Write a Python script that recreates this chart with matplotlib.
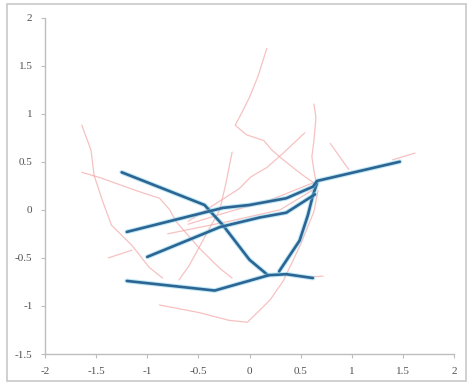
import matplotlib
matplotlib.use("Agg")
import matplotlib.pyplot as plt
from matplotlib.patches import Rectangle

# Thin red traces
red_traces = [
    ([-1.64, -1.55, -1.52, -1.44, -1.35, -1.15, -0.98, -0.85],
     [0.88, 0.62, 0.36, 0.10, -0.16, -0.37, -0.60, -0.71]),
    ([-1.64, -1.45, -1.11, -0.88, -0.78, -0.72, -0.49, -0.29, -0.17],
     [0.39, 0.33, 0.20, 0.12, 0.00, -0.12, -0.40, -0.61, -0.71]),
    ([-0.88, -0.49, -0.20, -0.02, 0.20, 0.33, 0.50, 0.63, 0.67],
     [-0.99, -1.07, -1.15, -1.17, -0.94, -0.74, -0.36, -0.02, 0.20]),
    ([0.17, 0.08, 0.00, -0.07, -0.14, -0.03, 0.14, 0.22, 0.33, 0.46, 0.56, 0.63],
     [1.68, 1.38, 1.17, 1.02, 0.88, 0.78, 0.72, 0.62, 0.52, 0.41, 0.33, 0.28]),
    ([0.63, 0.65, 0.63, 0.61, 0.63, 0.65],
     [1.10, 0.96, 0.72, 0.55, 0.41, 0.29]),
    ([0.79, 0.97], [0.69, 0.42]),
    ([0.54, 0.33, 0.17, 0.01, -0.10, -0.35, -0.60],
     [0.80, 0.59, 0.44, 0.34, 0.22, 0.05, -0.12]),
    ([-0.17, -0.23, -0.29, -0.39, -0.59, -0.69],
     [0.60, 0.28, 0.00, -0.19, -0.58, -0.73]),
    ([-0.60, -0.20, 0.20, 0.62], [-0.15, -0.02, 0.10, 0.28]),
    ([-0.80, -0.20, 0.30, 0.64], [-0.25, -0.12, 0.00, 0.22]),
    ([-1.38, -1.15], [-0.50, -0.42]),
    ([1.40, 1.62], [0.52, 0.59]),
    ([0.55, 0.72], [-0.70, -0.69]),
]

# Thick blue traces
blue_traces = [
    ([-1.25, -0.44, -0.26, 0.00, 0.18], [0.39, 0.05, -0.16, -0.52, -0.68]),
    ([-1.20, -0.34, 0.19, 0.36, 0.62], [-0.74, -0.84, -0.68, -0.67, -0.71]),
    ([0.29, 0.49, 0.57, 0.62, 0.66], [-0.64, -0.32, -0.06, 0.15, 0.275]),
    ([-1.20, -0.26, 0.00, 0.36, 0.62, 0.66, 1.47], [-0.23, 0.02, 0.05, 0.12, 0.24, 0.30, 0.50]),
    ([-1.00, -0.29, 0.10, 0.36, 0.64], [-0.49, -0.18, -0.08, -0.03, 0.16]),
]

x_ticks = [-2, -1.5, -1, -0.5, 0, 0.5, 1, 1.5, 2]
y_ticks = [-1.5, -1, -0.5, 0, 0.5, 1, 1.5, 2]

fig = plt.figure(figsize=(4.68, 3.83), dpi=100)
fig.patches.append(Rectangle((7/468, 0.005), 459/468, 0.985, transform=fig.transFigure,
                             fill=False, edgecolor="#c8c8c8", linewidth=1.2))
ax = fig.add_axes([45/468, 1 - 354/383, 409/468, (354 - 17.5)/383])

for xs, ys in red_traces:
    ax.plot(xs, ys, color="#f2a0a0", lw=0.9, alpha=0.65, solid_capstyle="round")
for xs, ys in blue_traces:
    ax.plot(xs, ys, color="#7fd0ea", lw=3.4, alpha=0.5, solid_capstyle="round")
    ax.plot(xs, ys, color="#2c6593", lw=1.9, solid_capstyle="round")

ax.set_xlim(-2, 2)
ax.set_ylim(-1.5, 2)
ax.set_xticks(x_ticks)
ax.set_yticks(y_ticks)
ax.set_xticklabels([f"{t:g}" for t in x_ticks])
ax.set_yticklabels([f"{t:g}" for t in y_ticks])
for s in ["top", "right"]:
    ax.spines[s].set_visible(False)
for s in ["left", "bottom"]:
    ax.spines[s].set_color("#bdbdbd")
    ax.spines[s].set_linewidth(1.0)
ax.tick_params(axis="both", direction="out", length=3, width=0.8, color="#bdbdbd",
               labelsize=8, labelcolor="#505050", pad=6)
for lab in ax.get_xticklabels() + ax.get_yticklabels():
    lab.set_family("Liberation Serif")

fig.savefig("out.png", dpi=100)
